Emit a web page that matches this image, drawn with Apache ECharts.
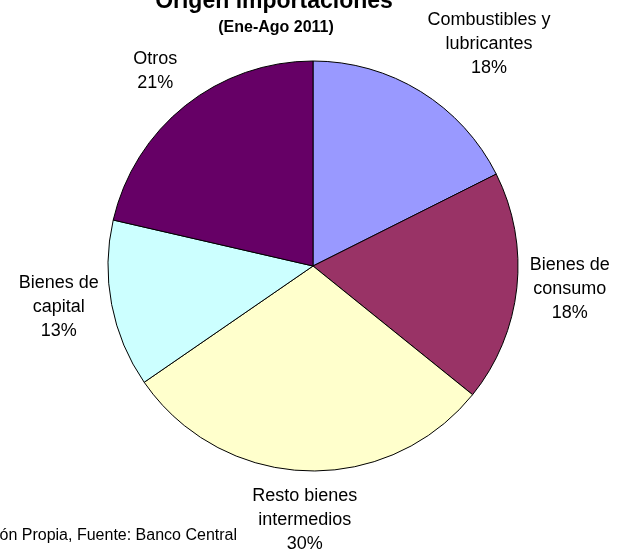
<!DOCTYPE html>
<html>
<head>
<meta charset="utf-8">
<title>Origen importaciones</title>
<script src="https://cdn.jsdelivr.net/npm/echarts@6/dist/echarts.min.js"></script>
<style>
html, body { margin: 0; padding: 0; background: #fff; }
#chart { width: 622px; height: 550px; }
</style>
</head>
<body>
<div id="chart"></div>
<script>
var categories = ['Combustibles y\nlubricantes', 'Bienes de\nconsumo', 'Resto bienes\nintermedios', 'Bienes de\ncapital', 'Otros'];
var shares = [17.6, 18.2, 29.6, 13.2, 21.4];
var colors = ['#9999FF', '#993366', '#FFFFCC', '#CCFFFF', '#660066'];
var titleText = 'Origen importaciones';
var subtitleText = '(Ene-Ago 2011)';
var sourceText = 'Elaboración Propia, Fuente: Banco Central';

var FONT = '"Liberation Sans", Arial, sans-serif';
var total = shares.reduce(function (a, b) { return a + b; }, 0);

var data = [];
for (var i = 0; i < categories.length; i++) {
    data.push({ name: categories[i], value: shares[i], itemStyle: { color: colors[i] } });
}

// excel style: the label box touches a point just outside the middle of its slice
function placeLabel(params) {
    var pts = params.labelLinePoints;
    if (!pts) return {};
    var dx = pts[1][0] - pts[0][0];
    var dy = pts[1][1] - pts[0][1];
    var len = Math.sqrt(dx * dx + dy * dy) || 1;
    dx /= len;
    dy /= len;
    return {
        x: pts[1][0],
        y: pts[1][1],
        align: dx > 0.3 ? 'left' : (dx < -0.3 ? 'right' : 'center'),
        verticalAlign: dy > 0.3 ? 'top' : (dy < -0.3 ? 'bottom' : 'middle')
    };
}

function textEl(text, x, y, font, align) {
    return {
        type: 'text',
        x: x,
        y: y,
        silent: true,
        style: {
            text: text, font: font, fill: '#000',
            align: align, verticalAlign: 'middle',
            textAlign: align, textVerticalAlign: 'middle'
        }
    };
}

var chart = echarts.init(document.getElementById('chart'));
chart.setOption({
    animation: false,
    backgroundColor: '#fff',
    graphic: [
        textEl(titleText, 274, 2, 'bold 23px ' + FONT, 'center'),
        textEl(subtitleText, 276, 28, 'bold 16px ' + FONT, 'center'),
        textEl(sourceText, 237, 536, '16px ' + FONT, 'right')
    ],
    series: [{
        type: 'pie',
        center: [313, 266],
        radius: 205,
        startAngle: 90,
        clockwise: true,
        avoidLabelOverlap: false,
        silent: true,
        data: data,
        itemStyle: { borderColor: '#000', borderWidth: 1 },
        label: {
            show: true,
            position: 'outside',
            color: '#000',
            fontFamily: FONT,
            fontSize: 18,
            lineHeight: 24,
            formatter: function (p) {
                var lines = p.name.split('\n');
                lines.push(Math.round(p.value / total * 100) + '%');
                return lines.map(function (s) { return '{t|' + s + '}'; }).join('\n');
            },
            rich: {
                t: { align: 'center', fontFamily: FONT, fontSize: 18, lineHeight: 24, color: '#000' }
            }
        },
        labelLine: { show: true, length: 13, length2: 0, lineStyle: { opacity: 0 } },
        labelLayout: placeLabel
    }]
});
</script>
</body>
</html>
